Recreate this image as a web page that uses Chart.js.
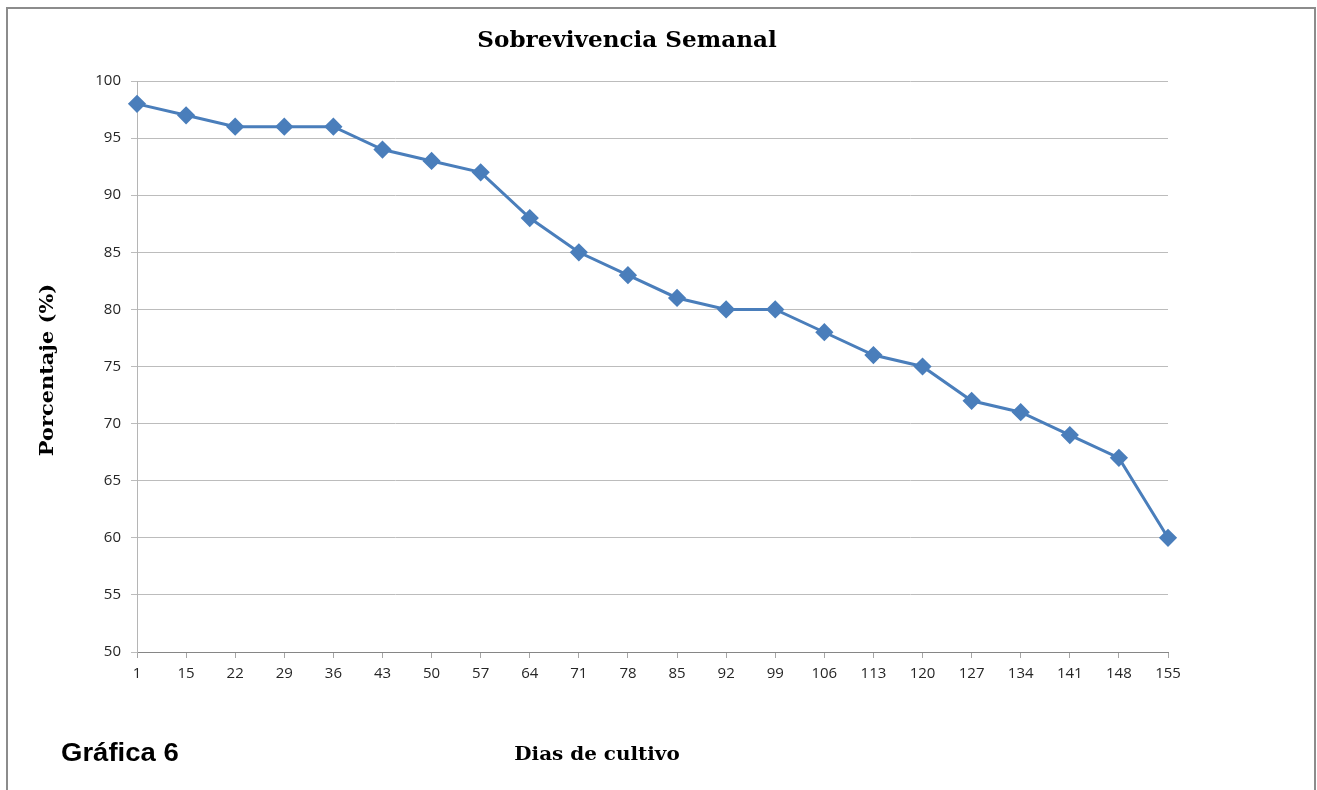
<!DOCTYPE html>
<html>
<head>
<meta charset="utf-8">
<script src="https://cdn.jsdelivr.net/npm/chart.js@4/dist/chart.umd.min.js"></script>
<style>
  html, body { margin: 0; padding: 0; background: #ffffff; overflow: hidden; }
  #wrap { position: absolute; left: 0; top: 0; width: 1317px; height: 790px; }
  #frame { position: absolute; left: 6px; top: 7px; width: 1310px; height: 800px;
           border: 2px solid #8c8c8c; box-sizing: border-box; pointer-events: none; }
  canvas { position: absolute; left: 0; top: 0; }
</style>
</head>
<body>
<div id="wrap">
  <canvas id="c" width="1317" height="790"></canvas>
  <div id="frame"></div>
</div>
<script>
const days = ["1","15","22","29","36","43","50","57","64","71","78","85","92","99","106","113","120","127","134","141","148","155"];
const survival = [98,97,96,96,96,94,93,92,88,85,83,81,80,80,78,76,75,72,71,69,67,60];
const yTicks = [50,55,60,65,70,75,80,85,90,95,100];
const chartTitle = "Sobrevivencia Semanal";
const xTitle = "Dias de cultivo";
const yTitle = "Porcentaje (%)";
const figLabel = "Gráfica 6";

function stretchedText(ctx, text, x, y, sx, align) {
  ctx.save();
  ctx.translate(x, y);
  ctx.scale(sx, 1);
  ctx.textAlign = align;
  ctx.fillText(text, 0, 0);
  ctx.restore();
}

const textPlugin = {
  id: 'texts',
  afterDraw(chart) {
    const ctx = chart.ctx;
    ctx.save();
    ctx.fillStyle = '#000';
    ctx.textBaseline = 'middle';
    ctx.font = 'bold 22px "DejaVu Serif"';
    stretchedText(ctx, chartTitle, 627, 41, 1.05, 'center');
    ctx.font = 'bold 19px "DejaVu Serif"';
    stretchedText(ctx, xTitle, 597, 755, 1.05, 'center');
    ctx.save();
    ctx.translate(48, 370);
    ctx.rotate(-Math.PI / 2);
    stretchedText(ctx, yTitle, 0, 0, 1.1, 'center');
    ctx.restore();
    ctx.font = 'bold 25px "Liberation Sans"';
    stretchedText(ctx, figLabel, 61, 754, 1.1, 'left');
    ctx.restore();
  }
};

new Chart(document.getElementById('c'), {
  type: 'line',
  data: {
    labels: days,
    datasets: [{
      data: survival,
      borderColor: '#4a7ebb',
      backgroundColor: '#4a7ebb',
      borderWidth: 3,
      pointStyle: 'rectRot',
      pointRadius: 7,
      pointHoverRadius: 7,
      tension: 0,
      fill: false
    }]
  },
  options: {
    responsive: false,
    animation: false,
    layout: { padding: { left: 0, right: 149, top: 81, bottom: 108 } },
    plugins: { legend: { display: false }, title: { display: false }, tooltip: { enabled: false } },
    scales: {
      x: {
        offset: false,
        grid: { display: true, drawOnChartArea: false, drawTicks: true, tickLength: 6, color: '#a6a6a6' },
        border: { display: true, color: '#868686', width: 1 },
        ticks: { color: '#262626', font: { family: '"Open Sans"', size: 15 }, padding: 7, maxRotation: 0, autoSkip: false },
        afterFit(scale) { scale.height = 30; }
      },
      y: {
        min: 50, max: 100,
        afterBuildTicks(scale) { scale.ticks = yTicks.map(v => ({ value: v })); },
        grid: { color: '#bcbcbc', lineWidth: 1, tickLength: 6 },
        border: { display: true, color: '#b5b5b5', width: 1 },
        ticks: { color: '#262626', font: { family: '"Open Sans"', size: 15 }, padding: 10 },
        afterFit(scale) { scale.width = 137; }
      }
    }
  },
  plugins: [textPlugin]
});
</script>
</body>
</html>
